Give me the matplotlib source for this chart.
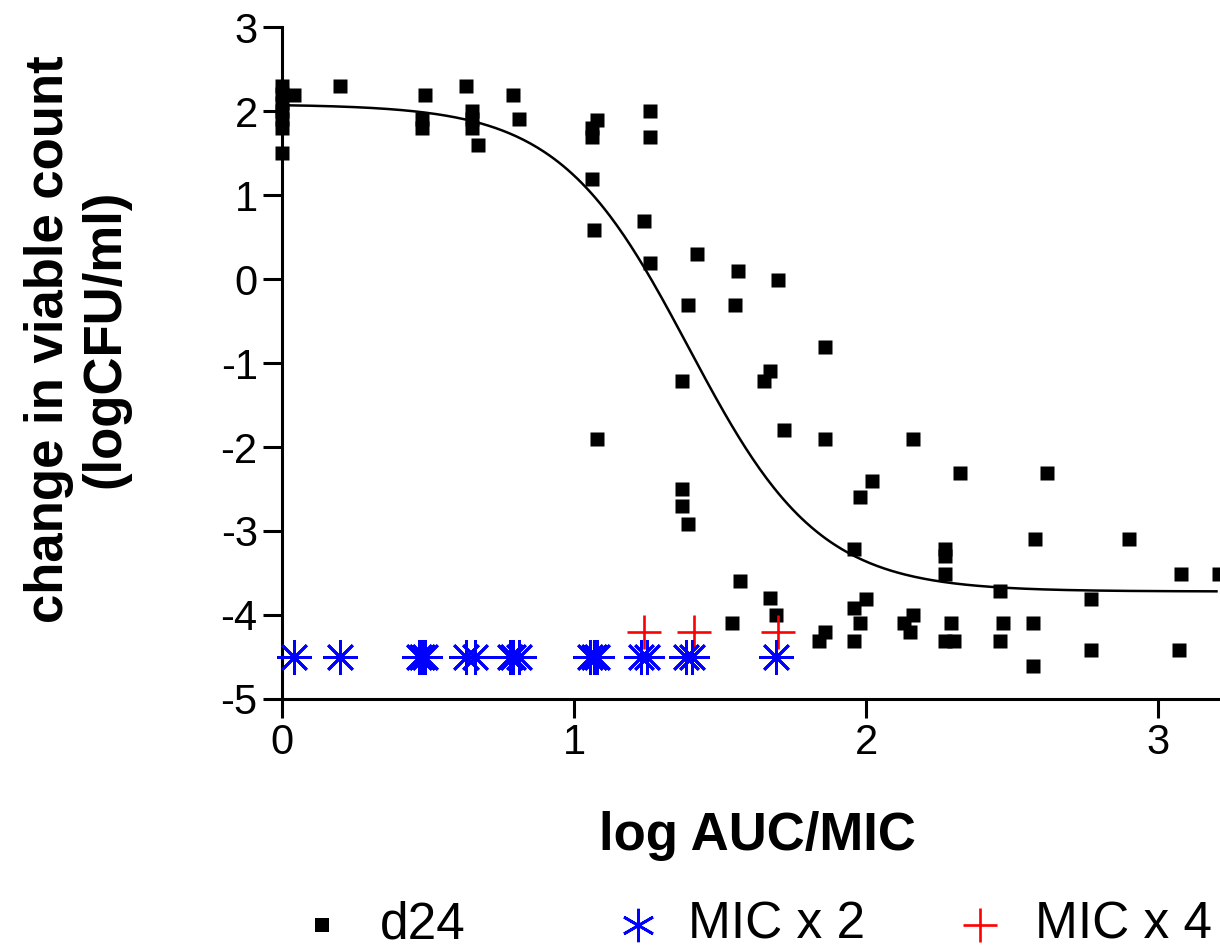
import numpy as np
import matplotlib
matplotlib.use("Agg")
import matplotlib.pyplot as plt
from matplotlib.lines import Line2D

plt.rcParams['font.family'] = ['Liberation Sans', 'DejaVu Sans']
plt.rcParams['axes.unicode_minus'] = False

# ---- data ----
d24_x = [0.0, 0.0, 0.0, 0.0, 0.0, 0.0, 0.0, 0.04, 0.20,
         0.49, 0.48, 0.48, 0.63, 0.65, 0.65, 0.65, 0.67, 0.79, 0.81,
         1.08, 1.06, 1.06, 1.06, 1.07, 1.08,
         1.26, 1.26, 1.24, 1.26,
         1.42, 1.39, 1.37, 1.37, 1.37, 1.39,
         1.56, 1.55, 1.57, 1.54,
         1.70, 1.67, 1.65, 1.72, 1.67, 1.69,
         1.86, 1.86, 1.84, 1.86,
         1.96, 1.98, 2.02, 2.00, 1.96, 1.98, 1.96,
         2.16, 2.16, 2.13, 2.15,
         2.27, 2.27, 2.27, 2.29, 2.27, 2.30, 2.32,
         2.46, 2.47, 2.46,
         2.57, 2.57, 2.58, 2.62,
         2.77, 2.77, 2.90,
         3.07, 3.08, 3.21]
d24_y = [2.3, 2.2, 2.1, 2.0, 1.9, 1.8, 1.5, 2.19, 2.30,
         2.19, 1.90, 1.80, 2.30, 2.0, 1.9, 1.8, 1.6, 2.19, 1.9,
         1.89, 1.80, 1.69, 1.19, 0.58, -1.91,
         2.0, 1.69, 0.69, 0.19,
         0.30, -0.31, -1.21, -2.5, -2.7, -2.92,
         0.10, -0.31, -3.6, -4.1,
         -0.01, -1.1, -1.21, -1.8, -3.8, -4.0,
         -0.81, -1.91, -4.31, -4.2,
         -3.21, -2.6, -2.41, -3.81, -3.92, -4.1, -4.31,
         -1.91, -4.0, -4.1, -4.2,
         -3.21, -3.3, -3.51, -4.1, -4.31, -4.31, -2.31,
         -3.71, -4.1, -4.31,
         -4.1, -4.61, -3.1, -2.31,
         -3.81, -4.42, -3.1,
         -4.42, -3.51, -3.51]

mic2_x = [0.04, 0.20, 0.47, 0.48, 0.49, 0.63, 0.66, 0.78, 0.79, 0.81,
          1.055, 1.07, 1.08, 1.23, 1.25, 1.385, 1.405, 1.69]
mic2_y = [-4.5] * len(mic2_x)

mic4_x = [1.24, 1.41, 1.70]
mic4_y = [-4.2] * len(mic4_x)

# fitted sigmoid (variable slope) parameters
fit_top = 2.08
fit_bottom = -3.72
fit_logec50 = 1.393
fit_hill = 1.95
fit_range = (0.0, 3.2)

xticks = [0, 1, 2, 3]
yticks = [-5, -4, -3, -2, -1, 0, 1, 2, 3]

legend_labels = ['d24', 'MIC x 2', 'MIC x 4']

# ---- figure ----
W, H = 1220, 950
fig = plt.figure(figsize=(W / 100, H / 100), dpi=100)
ax = fig.add_axes([282 / W, 1 - 699 / H, (W - 282) / W, (699 - 27) / H])

ax.set_xlim(0, 3.212)
ax.set_ylim(-5, 3)

xc = np.linspace(fit_range[0], fit_range[1], 400)
yc = fit_bottom + (fit_top - fit_bottom) / (1 + 10 ** ((xc - fit_logec50) * fit_hill))

ast8 = (8, 2, 0)
ax.plot(d24_x, d24_y, ls='none', marker='s', ms=9.7, mec='none', mfc='black',
        clip_on=False, zorder=3)
ax.plot(xc, yc, color='black', lw=1.8, zorder=4)
ax.plot(mic4_x, mic4_y, ls='none', marker='+', ms=24.5, mew=1.9, color='#ff0000',
        clip_on=False, zorder=5)
ax.plot(mic2_x, mic2_y, ls='none', marker=ast8, ms=25, mew=2.0, color='#0000ff',
        clip_on=False, zorder=6)

for s in ['top', 'right']:
    ax.spines[s].set_visible(False)
for s in ['left', 'bottom']:
    ax.spines[s].set_linewidth(2.2)

ax.set_xticks(xticks)
ax.set_yticks(yticks)
ax.set_xticklabels([str(t) for t in xticks])
ax.set_yticklabels([str(t) for t in yticks])
ax.tick_params(axis='both', direction='out', length=13.5, width=2.2,
               labelsize=30, pad=4)

ax.set_xlabel('log AUC/MIC', fontsize=38, fontweight='bold')
ax.xaxis.set_label_coords((757 - 282) / (W - 282), (699 - 836) / 672)
ax.xaxis.label.set_va('center')

ax.set_ylabel('change in viable count\n(logCFU/ml)', fontsize=38,
              fontweight='bold', linespacing=1.15)
ax.yaxis.set_label_coords((77 - 282) / (W - 282), (699 - 339) / 672)
ax.yaxis.label.set_va('center')

# ---- legend (manual, bottom row) ----
ly = 1 - 925 / H
handles = [
    dict(marker='s', ms=9.7, mec='none', mfc='black', color='black', mew=0),
    dict(marker=(6, 2, 0), ms=24, mew=2.0, color='#0000ff'),
    dict(marker='+', ms=24.5, mew=1.9, color='#ff0000'),
]
hx = [322, 638, 980]
tx = [380, 688, 1035]
for h, x0, t0, lab in zip(handles, hx, tx, legend_labels):
    fig.add_artist(Line2D([x0 / W], [ly], ls='none', transform=fig.transFigure, **h))
    fig.text(t0 / W, ly, lab, fontsize=37, ha='left', va='center')

fig.savefig('out.png', dpi=100)
